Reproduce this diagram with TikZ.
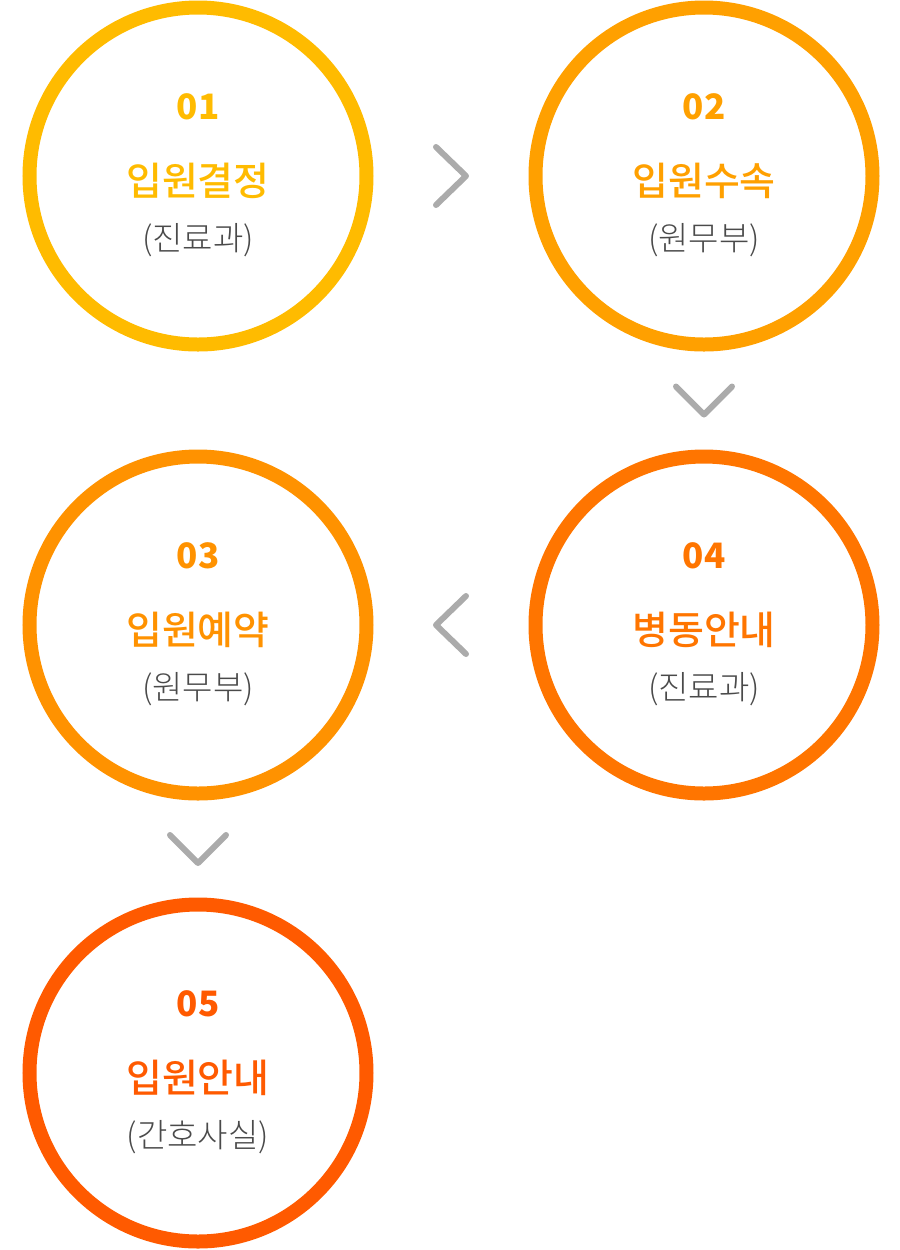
\documentclass[tikz,border=0pt]{standalone}
\usepackage{fontspec}
\usetikzlibrary{calc}
\newfontfamily\kr{Noto Sans CJK KR}
\newfontfamily\krmed{Noto Sans CJK KR}[UprightFont=* Medium]
\newfontfamily\krlight{Noto Sans CJK KR}[UprightFont=* Light]
\definecolor{col1}{HTML}{FFBB00}
\definecolor{col2}{HTML}{FFA000}
\definecolor{col3}{HTML}{FF9200}
\definecolor{col4}{HTML}{FF7500}
\definecolor{col5}{HTML}{FF5A00}
\definecolor{deptgray}{HTML}{4A4A4A}
\definecolor{chevgray}{HTML}{ABABAB}
\begin{document}
\begin{tikzpicture}[x=0.5pt,y=-0.5pt,
	ring/.style={circle, draw=#1, line width=7pt, minimum size=168.5pt, inner sep=0pt},
	stepnum/.style={text=#1, inner sep=0pt, font=\kr\bfseries\fontsize{17.5pt}{17.5pt}\selectfont},
	steptitle/.style={text=#1, inner sep=0pt, font=\krmed\fontsize{19.5pt}{19.5pt}\selectfont},
	stepdept/.style={text=deptgray, inner sep=0pt, font=\krlight\fontsize{16.5pt}{16.5pt}\selectfont},
	chev/.style={draw=chevgray, line width=3pt, line cap=round, line join=round}]
	\useasboundingbox (0,0) rectangle (900,1250);

	\node[ring=col1] (1) at (198,176) {};
	\node[ring=col2] (2) at (704,176) {};
	\node[ring=col3] (3) at (198,625) {};
	\node[ring=col4] (4) at (704,625) {};
	\node[ring=col5] (5) at (198,1073) {};

	\node[stepnum=col1] (1n) at ($(1)+(0,-69)$) {01};
	\node[steptitle=col1] (1t) at ($(1)+(0,5)$) {입원결정};
	\node[stepdept] (1d) at ($(1)+(0,64)$) {(진료과)};

	\node[stepnum=col2] (2n) at ($(2)+(0,-69)$) {02};
	\node[steptitle=col2] (2t) at ($(2)+(0,5)$) {입원수속};
	\node[stepdept] (2d) at ($(2)+(0,64)$) {(원무부)};

	\node[stepnum=col3] (3n) at ($(3)+(0,-69)$) {03};
	\node[steptitle=col3] (3t) at ($(3)+(0,5)$) {입원예약};
	\node[stepdept] (3d) at ($(3)+(0,64)$) {(원무부)};

	\node[stepnum=col4] (4n) at ($(4)+(0,-69)$) {04};
	\node[steptitle=col4] (4t) at ($(4)+(0,5)$) {병동안내};
	\node[stepdept] (4d) at ($(4)+(0,64)$) {(진료과)};

	\node[stepnum=col5] (5n) at ($(5)+(0,-69)$) {05};
	\node[steptitle=col5] (5t) at ($(5)+(0,5)$) {입원안내};
	\node[stepdept] (5d) at ($(5)+(0,64)$) {(간호사실)};

	\coordinate (m12) at ($(1)!0.5!(2)$);
	\coordinate (m24) at ($(2)!0.5!(4)$);
	\coordinate (m43) at ($(4)!0.5!(3)$);
	\coordinate (m35) at ($(3)!0.5!(5)$);

	\draw[chev] ($(m12)+(-15,-29)$) -- ($(m12)+(15,0)$) -- ($(m12)+(-15,29)$);
	\draw[chev] ($(m24)+(-28,-14)$) -- ($(m24)+(0,14)$) -- ($(m24)+(28,-14)$);
	\draw[chev] ($(m43)+(15,-29)$) -- ($(m43)+(-15,0)$) -- ($(m43)+(15,29)$);
	\draw[chev] ($(m35)+(-28,-14)$) -- ($(m35)+(0,14)$) -- ($(m35)+(28,-14)$);
\end{tikzpicture}
\end{document}
